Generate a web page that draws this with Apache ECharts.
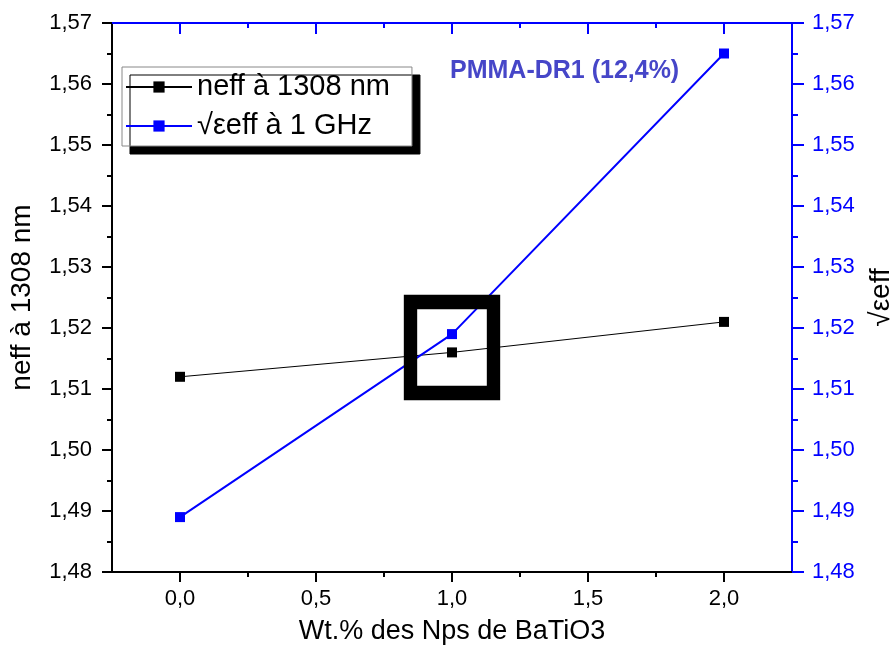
<!DOCTYPE html>
<html>
<head>
<meta charset="utf-8">
<script src="https://cdn.jsdelivr.net/npm/echarts@6/dist/echarts.min.js"></script>
<style>
  html, body { margin: 0; padding: 0; background: #fff; }
  #chart { width: 893px; height: 645px; }
</style>
</head>
<body>
<div id="chart"></div>
<script>
// ---- data ----
const wtPercent = [0.0, 1.0, 2.0];
const neff1308 = [1.512, 1.516, 1.521];
const sqrtEps1GHz = [1.489, 1.519, 1.565];
const highlightPoint = [[1.0, 1.5168]];
const xMajorTicks = [0, 0.5, 1.0, 1.5, 2.0];
const xMinorTicks = [0.25, 0.75, 1.25, 1.75];
const seriesNames = ['neff à 1308 nm', '√εeff à 1 GHz'];
const annotation = 'PMMA-DR1 (12,4%)';

const FONT = '"Liberation Sans", Arial, sans-serif';
const BLUE = '#0000ff';
const fmt = v => v.toFixed(2).replace('.', ',');
const fmt1 = v => v.toFixed(1).replace('.', ',');

const chart = echarts.init(document.getElementById('chart'), null, { renderer: 'canvas' });

function xAxisBase(extra) {
  return Object.assign({
    type: 'value', min: -0.25, max: 2.25, splitLine: { show: false }
  }, extra);
}

const option = {
  animation: false,
  backgroundColor: '#fff',
  textStyle: { fontFamily: FONT },
  title: {
    text: annotation, left: 445, top: 54,
    textStyle: { fontFamily: FONT, fontSize: 25, fontWeight: 'bold', color: '#4646c8' }
  },
  grid: { left: 112, right: 101, top: 23, bottom: 73, containLabel: false, outerBoundsMode: 'none' },
  legend: {
    data: seriesNames,
    orient: 'vertical',
    left: 122, top: 67,
    padding: [4, 22, 4, 3],
    itemWidth: 66, itemHeight: 14, itemGap: 7,
    backgroundColor: '#fff',
    borderColor: '#888', borderWidth: 1,
    shadowColor: '#000', shadowBlur: 0, shadowOffsetX: 8, shadowOffsetY: 8,
    textStyle: { fontFamily: FONT, fontSize: 29, color: '#000', lineHeight: 32 }
  },
  xAxis: [
    xAxisBase({
      position: 'bottom',
      name: 'Wt.% des Nps de BaTiO3', nameLocation: 'middle', nameGap: 46,
      nameTextStyle: { fontFamily: FONT, fontSize: 27, color: '#000' },
      axisLine: { onZero: false, lineStyle: { color: '#000', width: 2 } },
      axisTick: { show: true, inside: false, length: 10, customValues: xMajorTicks, lineStyle: { color: '#000', width: 2 } },
      axisLabel: { customValues: xMajorTicks, formatter: fmt1, fontFamily: FONT, fontSize: 22, color: '#000', margin: 16 }
    }),
    xAxisBase({
      position: 'bottom',
      axisLine: { show: false, onZero: false },
      axisTick: { show: true, inside: false, length: 5, customValues: xMinorTicks, lineStyle: { color: '#000', width: 2 } },
      axisLabel: { show: false }
    }),
    xAxisBase({
      position: 'top',
      axisLine: { onZero: false, lineStyle: { color: BLUE, width: 2 } },
      axisTick: { show: true, inside: true, length: 11, customValues: xMajorTicks, lineStyle: { color: BLUE, width: 2 } },
      axisLabel: { show: false }
    }),
    xAxisBase({
      position: 'top',
      axisLine: { show: false, onZero: false },
      axisTick: { show: true, inside: true, length: 5, customValues: xMinorTicks, lineStyle: { color: BLUE, width: 2 } },
      axisLabel: { show: false }
    })
  ],
  yAxis: [
    {
      type: 'value', position: 'left', min: 1.48, max: 1.57, interval: 0.01,
      name: 'neff à 1308 nm', nameLocation: 'middle', nameGap: 76, nameRotate: 90,
      nameTextStyle: { fontFamily: FONT, fontSize: 28, color: '#000' },
      splitLine: { show: false },
      axisLine: { show: true, onZero: false, lineStyle: { color: '#000', width: 2 } },
      axisTick: { show: true, inside: false, length: 10, lineStyle: { color: '#000', width: 2 } },
      minorTick: { show: true, splitNumber: 2, length: 5, lineStyle: { color: '#000', width: 2 } },
      axisLabel: { formatter: fmt, fontFamily: FONT, fontSize: 22, color: '#000', margin: 20 }
    },
    {
      type: 'value', position: 'right', min: 1.48, max: 1.57, interval: 0.01,
      name: '√εeff', nameLocation: 'middle', nameGap: 75, nameRotate: 90,
      nameTextStyle: { fontFamily: FONT, fontSize: 28, color: '#000' },
      splitLine: { show: false },
      axisLine: { show: true, onZero: false, lineStyle: { color: BLUE, width: 2 } },
      axisTick: { show: true, inside: false, length: 12, lineStyle: { color: BLUE, width: 2 } },
      minorTick: { show: true, splitNumber: 2, length: 6, lineStyle: { color: BLUE, width: 2 } },
      axisLabel: { formatter: fmt, fontFamily: FONT, fontSize: 22, color: BLUE, margin: 20 }
    }
  ],
  series: [
    {
      name: seriesNames[0], type: 'line', xAxisIndex: 0, yAxisIndex: 0, z: 2,
      data: wtPercent.map((x, i) => [x, neff1308[i]]),
      symbol: 'rect', symbolSize: 10,
      lineStyle: { color: '#000', width: 1 },
      itemStyle: { color: '#000' }
    },
    {
      name: seriesNames[1], type: 'line', xAxisIndex: 0, yAxisIndex: 1, z: 2,
      data: wtPercent.map((x, i) => [x, sqrtEps1GHz[i]]),
      symbol: 'rect', symbolSize: 10,
      lineStyle: { color: BLUE, width: 2 },
      itemStyle: { color: BLUE }
    },
    {
      name: 'highlight', type: 'scatter', xAxisIndex: 0, yAxisIndex: 0, z: 3,
      data: highlightPoint,
      symbol: 'rect', symbolSize: [83, 91],
      itemStyle: { color: 'rgba(0,0,0,0)', borderColor: '#000', borderWidth: 14, opacity: 1 },
      silent: true
    }
  ]
};
chart.setOption(option);
</script>
</body>
</html>
